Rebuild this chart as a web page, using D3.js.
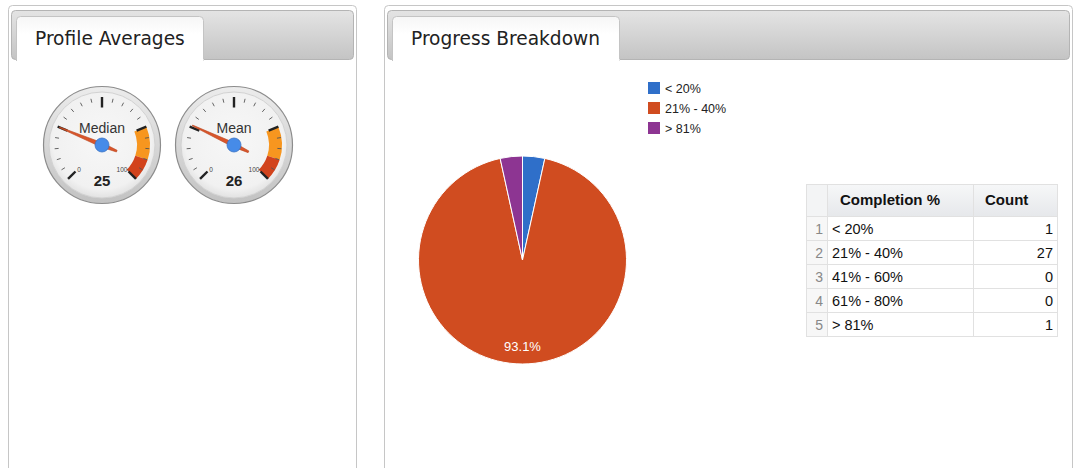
<!DOCTYPE html>
<html lang="en">
<head>
<meta charset="utf-8">
<script src="https://cdn.jsdelivr.net/npm/d3@7/dist/d3.min.js"></script>
<title>Profile Averages / Progress Breakdown</title>
<style>
  body { margin: 0; background: #fff; }
  svg { display: block; }
  .tabtitle { font-family: "DejaVu Sans", Verdana, sans-serif; font-size: 18.6px; fill: #222; }
  .arial { font-family: "Liberation Sans", Arial, sans-serif; }
</style>
</head>
<body>
<div id="chart"></div>
<script>
// ---- data ----
var gaugeLabels = ["Median", "Mean"];
var gaugeValues = [25, 26];
var gaugeMajorTicks = [0, 25, 50, 75, 100];
var gaugeMinorStep = 5;
var yellowBand = [75, 90];
var redBand = [90, 100];

var categories = ["< 20%", "21% - 40%", "41% - 60%", "61% - 80%", "> 81%"];
var counts = [1, 27, 0, 0, 1];
var sliceColors = ["#2f6fc9", "#d04c20", "#ef9a1a", "#1d8f2a", "#8d3592"];
var tableHeaders = ["Completion %", "Count"];

var width = 1073, height = 468;

var svg = d3.select("#chart").append("svg")
    .attr("width", width)
    .attr("height", height);

var defs = svg.append("defs");

var barGrad = defs.append("linearGradient").attr("id", "barGrad")
    .attr("x1", 0).attr("y1", 0).attr("x2", 0).attr("y2", 1);
barGrad.append("stop").attr("offset", "0%").attr("stop-color", "#e4e4e4");
barGrad.append("stop").attr("offset", "100%").attr("stop-color", "#c4c4c4");

var tabGrad = defs.append("linearGradient").attr("id", "tabGrad")
    .attr("x1", 0).attr("y1", 0).attr("x2", 0).attr("y2", 1);
tabGrad.append("stop").attr("offset", "0%").attr("stop-color", "#f6f6f6");
tabGrad.append("stop").attr("offset", "40%").attr("stop-color", "#ffffff");
tabGrad.append("stop").attr("offset", "100%").attr("stop-color", "#ffffff");

var ringGrad = defs.append("linearGradient").attr("id", "ringGrad")
    .attr("x1", 0).attr("y1", 0).attr("x2", 0).attr("y2", 1);
ringGrad.append("stop").attr("offset", "0%").attr("stop-color", "#ececec");
ringGrad.append("stop").attr("offset", "100%").attr("stop-color", "#c2c2c2");

var faceGrad = defs.append("radialGradient").attr("id", "faceGrad")
    .attr("cx", "50%").attr("cy", "45%").attr("r", "55%");
faceGrad.append("stop").attr("offset", "0%").attr("stop-color", "#f7f7f7");
faceGrad.append("stop").attr("offset", "85%").attr("stop-color", "#f1f1f1");
faceGrad.append("stop").attr("offset", "100%").attr("stop-color", "#e2e2e2");

var headGrad = defs.append("linearGradient").attr("id", "headGrad")
    .attr("x1", 0).attr("y1", 0).attr("x2", 0).attr("y2", 1);
headGrad.append("stop").attr("offset", "0%").attr("stop-color", "#f6f7f8");
headGrad.append("stop").attr("offset", "100%").attr("stop-color", "#e6e8eb");

// ---- panels ----
function panel(x0, x1, title, tabRight) {
  var g = svg.append("g");
  g.append("rect")
    .attr("x", x0 + 0.5).attr("y", 5.5)
    .attr("width", x1 - x0 - 1).attr("height", height + 20)
    .attr("rx", 4)
    .attr("fill", "#fff").attr("stroke", "#c6c6c6");
  g.append("rect")
    .attr("x", x0 + 3.5).attr("y", 10.5)
    .attr("width", x1 - x0 - 7).attr("height", 49)
    .attr("rx", 4)
    .attr("fill", "url(#barGrad)").attr("stroke", "#b4b4b4");
  g.append("path")
    .attr("d", "M" + (x0 + 8.5) + ",61 V20.5 q0,-4 4,-4 H" + (tabRight - 4.5) +
               " q4,0 4,4 V61")
    .attr("fill", "url(#tabGrad)").attr("stroke", "#c4c4c4");
  g.append("rect")
    .attr("x", x0 + 9).attr("y", 59).attr("width", tabRight - x0 - 9.5).attr("height", 4)
    .attr("fill", "#fff");
  g.append("text").attr("class", "tabtitle")
    .attr("x", x0 + 27).attr("y", 45)
    .text(title);
}
panel(8, 357, "Profile Averages", 204);
panel(384, 1073, "Progress Breakdown", 620);

// ---- gauges ----
var angle = d3.scaleLinear().domain([0, 100]).range([-135, 135].map(function(d) { return d * Math.PI / 180; }));
function pt(cx, cy, a, r) { return [cx + r * Math.sin(a), cy - r * Math.cos(a)]; }

var gaugeCenters = [[102, 145], [234, 145]];
var bandArc = d3.arc().innerRadius(35).outerRadius(48);

gaugeLabels.forEach(function(label, i) {
  var cx = gaugeCenters[i][0], cy = gaugeCenters[i][1];
  var g = svg.append("g");
  var value = gaugeValues[i];

  g.append("circle").attr("cx", cx).attr("cy", cy).attr("r", 58.5)
    .attr("fill", "url(#ringGrad)").attr("stroke", "#8c8c8c").attr("stroke-width", 1.2);
  g.append("circle").attr("cx", cx).attr("cy", cy).attr("r", 53)
    .attr("fill", "url(#faceGrad)").attr("stroke", "#d2d2d2");

  // coloured bands
  [[yellowBand, "#f7961f"], [redBand, "#d2431c"]].forEach(function(b) {
    g.append("path")
      .attr("transform", "translate(" + cx + "," + cy + ")")
      .attr("d", bandArc({ startAngle: angle(b[0][0]), endAngle: angle(b[0][1]) }))
      .attr("fill", b[1]);
  });

  // minor ticks
  d3.range(0, 100 + 0.01, gaugeMinorStep).forEach(function(v) {
    if (gaugeMajorTicks.indexOf(v) >= 0) return;
    var p1 = pt(cx, cy, angle(v), 43.5), p2 = pt(cx, cy, angle(v), 47.5);
    g.append("line").attr("x1", p1[0]).attr("y1", p1[1]).attr("x2", p2[0]).attr("y2", p2[1])
      .attr("stroke", "#555").attr("stroke-width", 0.9);
  });
  // major ticks
  gaugeMajorTicks.forEach(function(v) {
    var p1 = pt(cx, cy, angle(v), 37.5), p2 = pt(cx, cy, angle(v), 48);
    g.append("line").attr("x1", p1[0]).attr("y1", p1[1]).attr("x2", p2[0]).attr("y2", p2[1])
      .attr("stroke", "#222").attr("stroke-width", 2.4);
  });

  // min / max labels
  g.append("text").attr("class", "arial")
    .attr("x", cx - 23).attr("y", cy + 27)
    .attr("text-anchor", "middle").attr("font-size", 6.5).attr("fill", "#444")
    .text(0);
  g.append("text").attr("class", "arial")
    .attr("x", cx + 20).attr("y", cy + 27)
    .attr("text-anchor", "middle").attr("font-size", 6.5).attr("fill", "#444")
    .text(100);

  g.append("text").attr("class", "arial")
    .attr("x", cx).attr("y", cy - 12)
    .attr("text-anchor", "middle").attr("font-size", 14).attr("fill", "#333")
    .text(label);

  g.append("text").attr("class", "arial")
    .attr("x", cx).attr("y", cy + 41)
    .attr("text-anchor", "middle").attr("font-size", 15).attr("font-weight", "bold").attr("fill", "#222")
    .text(value);

  // needle
  var a = angle(value), perp = a + Math.PI / 2;
  function off(p, w) { return [p[0] + w * Math.sin(perp), p[1] - w * Math.cos(perp)]; }
  var tip = pt(cx, cy, a, 46), tail = pt(cx, cy, a, -16);
  var pts = [off(tip, 0.4), off([cx, cy], 2.2), off(tail, 0.9), off(tail, -0.9),
             off([cx, cy], -2.2), off(tip, -0.4)];
  g.append("polygon").attr("points", pts.map(function(p) { return p.join(","); }).join(" "))
    .attr("fill", "#d9552b").attr("stroke", "#b8441c").attr("stroke-width", 0.6);

  g.append("circle").attr("cx", cx).attr("cy", cy).attr("r", 7)
    .attr("fill", "#468be8").attr("stroke", "#3b73c4").attr("stroke-width", 0.8);
});

// ---- pie ----
var pieData = categories.map(function(c, i) { return { cat: c, count: counts[i], color: sliceColors[i] }; });
var total = d3.sum(counts);
var pie = d3.pie().sort(null).value(function(d) { return d.count; });
var radius = 104;
var arc = d3.arc().innerRadius(0).outerRadius(radius);
var labelArc = d3.arc().innerRadius(radius * 0.83).outerRadius(radius * 0.83);

var pieG = svg.append("g").attr("transform", "translate(522.5,260)");
var arcs = pie(pieData).filter(function(d) { return d.data.count > 0; });
pieG.selectAll("path.slice").data(arcs).enter().append("path")
    .attr("class", "slice")
    .attr("d", arc)
    .attr("fill", function(d) { return d.data.color; })
    .attr("stroke", "#fff").attr("stroke-width", 1);

pieG.selectAll("text.pct").data(arcs.filter(function(d) { return d.data.count / total > 0.1; }))
  .enter().append("text")
    .attr("class", "pct arial")
    .attr("transform", function(d) { var c = labelArc.centroid(d); return "translate(" + c[0] + "," + (c[1] + 4.5) + ")"; })
    .attr("text-anchor", "middle").attr("font-size", 13).attr("fill", "#fff")
    .text(function(d) { return (d.data.count / total * 100).toFixed(1) + "%"; });

// legend (non-zero categories only)
var legendItems = pieData.filter(function(d) { return d.count > 0; });
var legend = svg.append("g").attr("transform", "translate(648,82)");
var li = legend.selectAll("g").data(legendItems).enter().append("g")
    .attr("transform", function(d, i) { return "translate(0," + (i * 20) + ")"; });
li.append("rect").attr("width", 12).attr("height", 12)
    .attr("fill", function(d) { return d.color; });
li.append("text").attr("class", "arial")
    .attr("x", 17).attr("y", 10.5).attr("font-size", 12.5).attr("fill", "#222")
    .text(function(d) { return d.cat; });

// ---- table ----
var colX = [806, 827, 973, 1057];
var headTop = 184, headH = 32, rowH = 24;
var y = d3.scaleBand().domain(d3.range(categories.length))
    .range([headTop + headH, headTop + headH + rowH * categories.length]);

var tbl = svg.append("g");
tbl.append("rect").attr("x", colX[0] + 0.5).attr("y", headTop + 0.5)
    .attr("width", colX[3] - colX[0]).attr("height", headH)
    .attr("fill", "url(#headGrad)");
tbl.append("rect").attr("x", colX[0] + 0.5).attr("y", headTop + 0.5)
    .attr("width", colX[1] - colX[0]).attr("height", headH)
    .attr("fill", "#f3f4f5");

tbl.selectAll("rect.rownum").data(d3.range(categories.length)).enter().append("rect")
    .attr("class", "rownum")
    .attr("x", colX[0] + 0.5).attr("y", function(i) { return y(i) + 0.5; })
    .attr("width", colX[1] - colX[0]).attr("height", rowH)
    .attr("fill", "#f7f7f7");

// grid lines
d3.range(categories.length + 2).forEach(function(k) {
  var yy = k === 0 ? headTop : headTop + headH + (k - 1) * rowH;
  tbl.append("line").attr("x1", colX[0]).attr("x2", colX[3] + 1)
    .attr("y1", yy + 0.5).attr("y2", yy + 0.5)
    .attr("stroke", "#e1e1e1");
});
colX.forEach(function(x) {
  tbl.append("line").attr("x1", x + 0.5).attr("x2", x + 0.5)
    .attr("y1", headTop).attr("y2", headTop + headH + rowH * categories.length + 1)
    .attr("stroke", "#e1e1e1");
});

tbl.append("text").attr("class", "arial")
    .attr("x", 840).attr("y", headTop + 21)
    .attr("font-size", 15).attr("font-weight", "bold").attr("fill", "#111")
    .text(tableHeaders[0]);
tbl.append("text").attr("class", "arial")
    .attr("x", 985).attr("y", headTop + 21)
    .attr("font-size", 15).attr("font-weight", "bold").attr("fill", "#111")
    .text(tableHeaders[1]);

var rows = tbl.selectAll("g.row").data(pieData).enter().append("g")
    .attr("class", "row")
    .attr("transform", function(d, i) { return "translate(0," + (y(i) + 18) + ")"; });
rows.append("text").attr("class", "arial")
    .attr("x", 823).attr("text-anchor", "end").attr("font-size", 14).attr("fill", "#888")
    .text(function(d, i) { return i + 1; });
rows.append("text").attr("class", "arial")
    .attr("x", 832).attr("font-size", 14.5).attr("fill", "#111")
    .text(function(d) { return d.cat; });
rows.append("text").attr("class", "arial")
    .attr("x", 1053).attr("text-anchor", "end").attr("font-size", 14.5).attr("fill", "#111")
    .text(function(d) { return d.count; });
</script>
</body>
</html>
